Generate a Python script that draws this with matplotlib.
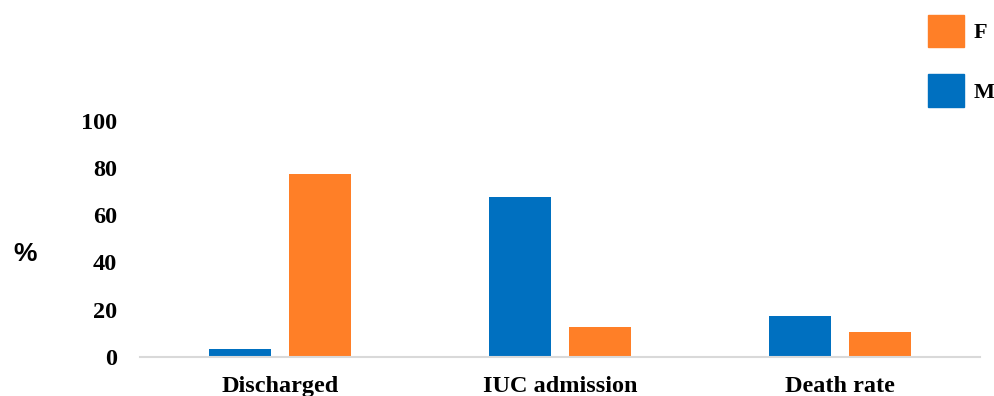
import matplotlib.pyplot as plt
import numpy as np
from matplotlib.patches import Patch

categories = ["Discharged", "IUC admission", "Death rate"]
male = [3.3, 67.5, 17.4]
female = [77.3, 12.7, 10.6]
yticks = [0, 20, 40, 60, 80, 100]

BLUE = "#0070C0"
ORANGE = "#FF7F27"
SERIF = "Liberation Serif"

fig = plt.figure(figsize=(9.94, 3.96), dpi=100)
ax = fig.add_axes([140 / 994, 39.3 / 396, 840 / 994, 236 / 396])

x = np.arange(len(categories))
w = 0.223
off = 0.142
ax.bar(x - off, male, width=w, color=BLUE, label="M")
ax.bar(x + off, female, width=w, color=ORANGE, label="F")

ax.set_xlim(-0.5, len(categories) - 0.5)
ax.set_ylim(0, 100)
ax.set_yticks(yticks)
ax.set_yticklabels([str(t) for t in yticks], fontfamily=SERIF,
                   fontweight="bold", fontsize=17.5)
ax.set_xticks(x)
ax.set_xticklabels(categories, fontfamily=SERIF, fontweight="bold", fontsize=17.5)
ax.tick_params(axis="y", length=0, pad=16.5)
ax.tick_params(axis="x", length=0, pad=14)

for side in ("top", "right", "left"):
    ax.spines[side].set_visible(False)
ax.spines["bottom"].set_color("#d9d9d9")
ax.spines["bottom"].set_linewidth(1.5)

ax.set_ylabel("%", rotation=0, fontfamily="Liberation Sans", fontweight="bold",
              fontsize=19)
ax.yaxis.set_label_coords(-0.137, 0.386)

handles = [Patch(color=ORANGE, label="F"), Patch(color=BLUE, label="M")]
fig.legend(handles=handles, loc="upper left", bbox_to_anchor=(915 / 994, 0.997),
           frameon=False, handlelength=1.6, handleheight=1.85, labelspacing=1.25,
           handletextpad=0.45, borderaxespad=0.2,
           prop={"family": SERIF, "weight": "bold", "size": 16})

fig.savefig("out.png", dpi=100)
